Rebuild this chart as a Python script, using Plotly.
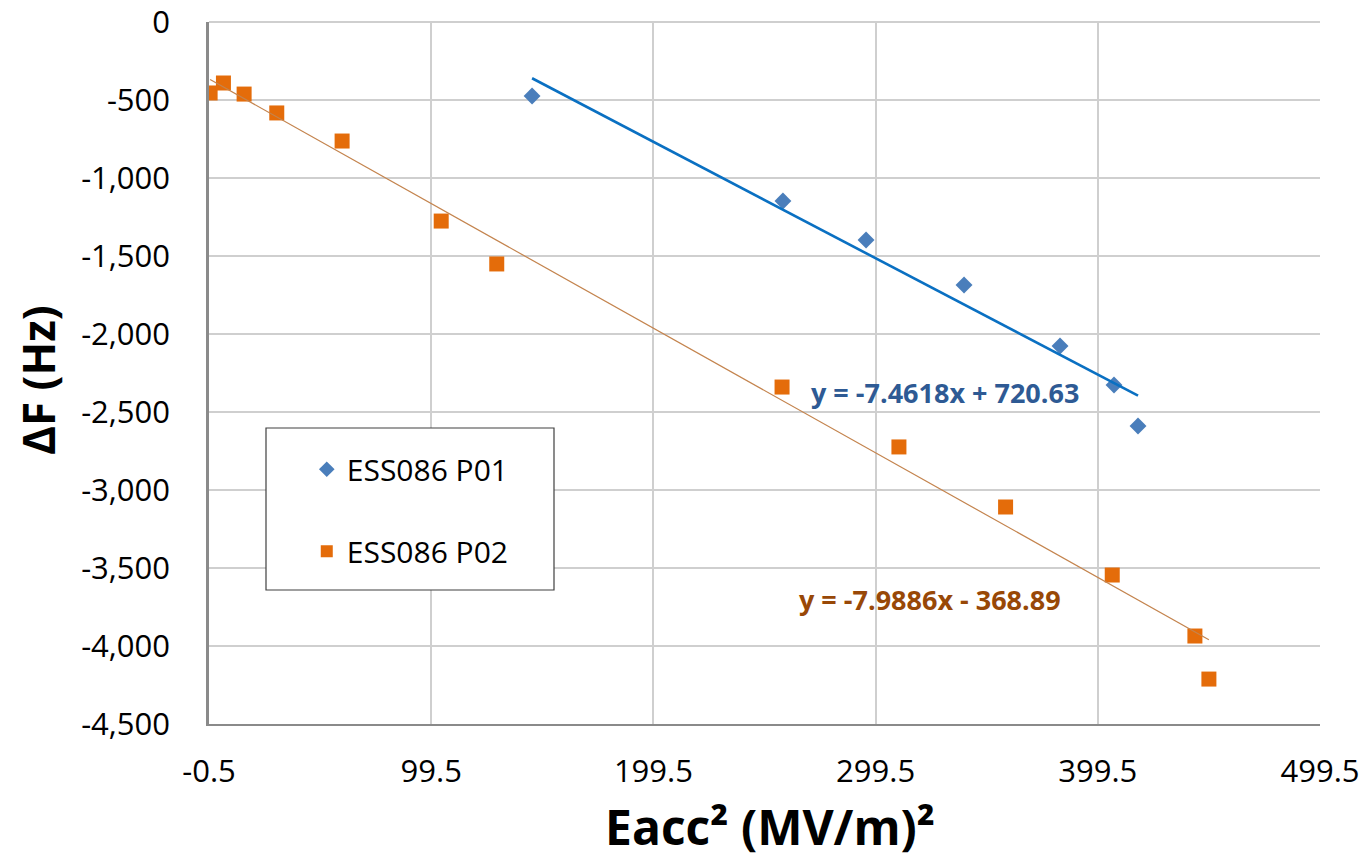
import numpy as np
import plotly.graph_objects as go

# ---- data ----
p01_x = [144.9, 257.8, 295.2, 339.3, 382.5, 406.8, 417.6]
p01_y = [-474, -1147, -1397, -1686, -2077, -2327, -2590]

p02_x = [0.0, 6.0, 15.3, 30.0, 59.4, 104.0, 129.0, 257.4, 310.0, 358.0, 406.0, 443.2, 449.5]
p02_y = [-455, -391, -462, -583, -763, -1276, -1551, -2340, -2724, -3109, -3545, -3936, -4212]

p01_fit = (-7.4618, 720.63)
p02_fit = (-7.9886, -368.89)

x_ticks = [-0.5, 99.5, 199.5, 299.5, 399.5, 499.5]
y_ticks = [0, -500, -1000, -1500, -2000, -2500, -3000, -3500, -4000, -4500]

series_names = ["ESS086 P01", "ESS086 P02"]
eq_texts = ["y = -7.4618x + 720.63", "y = -7.9886x - 368.89"]

FONT = "Open Sans"
BLUE_M = "#4A7EBB"
ORANGE_M = "#E46C0A"
BLUE_L = "#0A70C2"
ORANGE_L = "#C4844E"
BLUE_T = "#2E5A94"
ORANGE_T = "#984807"
GRID = "#CFCFCF"

fig = go.Figure()

fig.add_trace(go.Scatter(
    x=p01_x, y=p01_y, mode="markers", name=series_names[0],
    marker=dict(symbol="diamond", size=13, color=BLUE_M, line=dict(width=0)),
    legendgroup="a"))
fig.add_trace(go.Scatter(
    x=p02_x, y=p02_y, mode="markers", name=series_names[1],
    marker=dict(symbol="square", size=15, color=ORANGE_M, line=dict(width=0)),
    legendgroup="b"))

# trendlines from fit equations over each series' x range
for xs, (m, c), col, w in [(p01_x, p01_fit, BLUE_L, 2.6), (p02_x, p02_fit, ORANGE_L, 1.2)]:
    tx = np.array([min(xs), max(xs)])
    fig.add_trace(go.Scatter(x=tx, y=m * tx + c, mode="lines",
                             line=dict(color=col, width=w),
                             showlegend=False, hoverinfo="skip"))

fig.add_annotation(x=330.7, y=-2378, xref="x", yref="y", text="<b>" + eq_texts[0] + "</b>",
                   showarrow=False, font=dict(family=FONT, size=27, color=BLUE_T),
                   xanchor="center", yanchor="middle")
fig.add_annotation(x=324, y=-3705, xref="x", yref="y", text="<b>" + eq_texts[1] + "</b>",
                   showarrow=False, font=dict(family=FONT, size=27, color=ORANGE_T),
                   xanchor="center", yanchor="middle")

# axis titles
fig.add_annotation(x=-0.154, y=0.49, xref="paper", yref="paper", text="<b>ΔF (Hz)</b>",
                   textangle=-90, showarrow=False,
                   font=dict(family=FONT, size=44, color="black"),
                   xanchor="center", yanchor="middle")
fig.add_annotation(x=0.505, y=-0.146, xref="paper", yref="paper", text="<b>Eacc² (MV/m)²</b>",
                   showarrow=False, font=dict(family=FONT, size=48, color="black"),
                   xanchor="center", yanchor="middle")

# top frame gridline (0 Hz line at the plot edge)
fig.add_shape(type="line", xref="paper", yref="paper", x0=0, x1=1, y0=1, y1=1,
              line=dict(color=GRID, width=2), layer="below")

# legend box
fig.add_shape(type="rect", xref="paper", yref="paper",
              x0=(266 - 209) / 1111, x1=(554 - 209) / 1111,
              y0=(724 - 590) / 702, y1=(724 - 428) / 702,
              line=dict(color="#404040", width=1.2), fillcolor="white", layer="above")

fig.update_layout(
    width=1362, height=858,
    margin=dict(l=209, r=42, t=22, b=134),
    paper_bgcolor="white", plot_bgcolor="white",
    font=dict(family=FONT, color="black"),
    showlegend=True,
    legend=dict(x=0.088, y=0.40, xanchor="left", yanchor="top",
                bgcolor="rgba(0,0,0,0)", borderwidth=0,
                font=dict(family=FONT, size=30, color="black"),
                itemsizing="constant", tracegroupgap=40, traceorder="grouped"),
    xaxis=dict(range=[-0.5, 499.5], tickmode="array", tickvals=x_ticks,
               ticktext=[f"{v:g}" for v in x_ticks],
               showgrid=True, gridcolor=GRID, gridwidth=2, zeroline=False,
               showline=True, linecolor="#8A8A8A", linewidth=2,
               ticks="", tickfont=dict(family=FONT, size=31, color="black"),
               ticklabelstandoff=19, automargin=False, ticklabeloverflow="allow"),
    yaxis=dict(range=[-4500, 0], tickmode="array", tickvals=y_ticks,
               ticktext=[f"{v:,}" for v in y_ticks],
               showgrid=True, gridcolor=GRID, gridwidth=2, zeroline=False,
               showline=True, linecolor="#8A8A8A", linewidth=2.5,
               ticks="", tickfont=dict(family=FONT, size=31, color="black"),
               ticklabelstandoff=30, automargin=False, ticklabeloverflow="allow"),
)

fig.write_html("out.html")
